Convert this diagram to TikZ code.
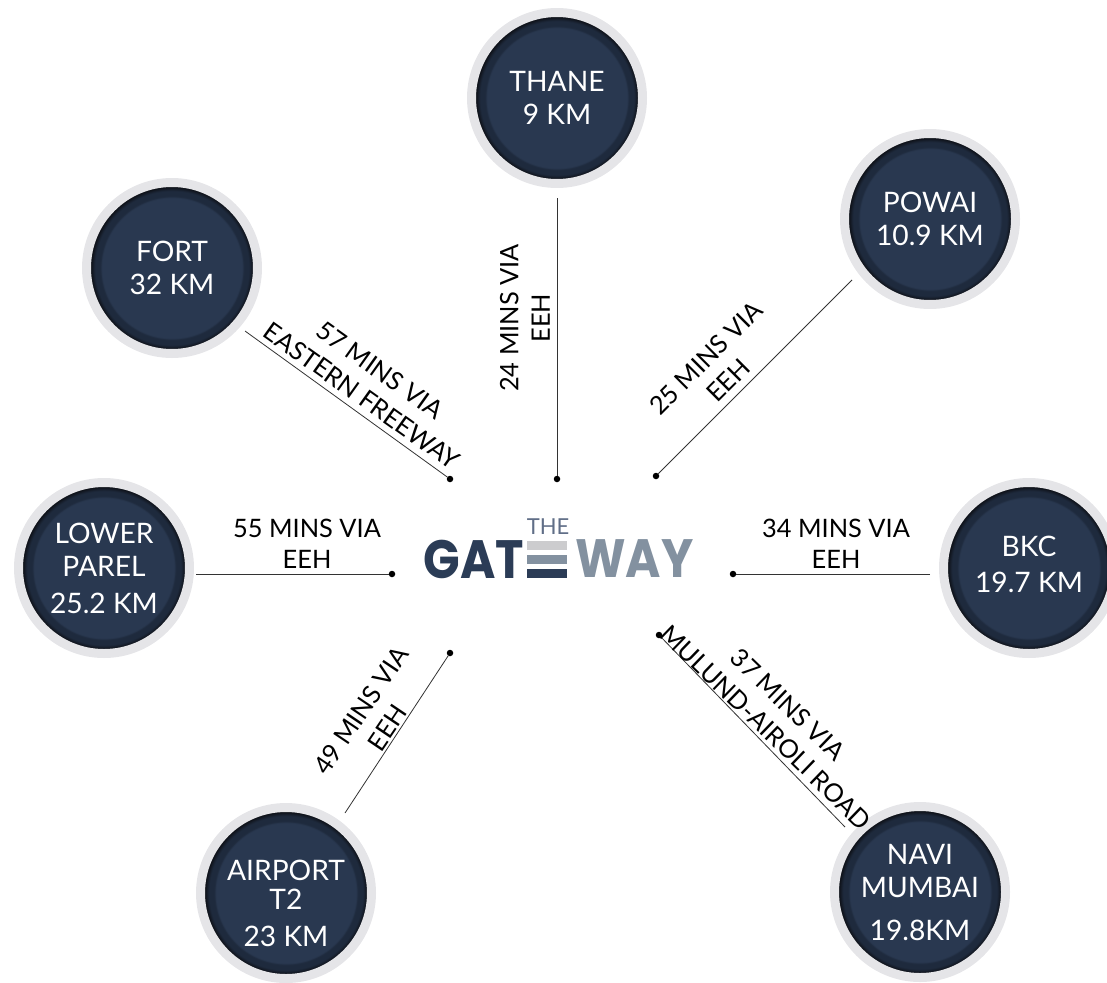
\documentclass[tikz,border=0pt]{standalone}
\usepackage{fontspec}
\setmainfont{Lato}
\newfontfamily\logofont{Poppins}
\usepackage{xcolor}
\usepackage{tikz}
\definecolor{hubnavy}{RGB}{41,56,80}
\definecolor{hubedge}{RGB}{30,42,61}
\definecolor{hubblack}{RGB}{14,17,24}
\definecolor{hubring}{RGB}{229,229,232}
\definecolor{logonavy}{RGB}{43,60,86}
\definecolor{logosteel}{RGB}{131,145,160}
\definecolor{logolight}{RGB}{204,204,206}
\definecolor{logothin}{RGB}{96,110,135}
\pgfdeclareradialshading{hubshade}{\pgfpoint{0bp}{0bp}}{%
  color(0bp)=(hubnavy); color(20.5bp)=(hubnavy); color(21bp)=(hubedge);
  color(22.5bp)=(hubedge); color(23.7bp)=(hubblack); color(50bp)=(hubblack)}
\tikzset{
  hub/.style={circle,shading=hubshade,draw=hubring,line width=9pt,minimum size=171pt,
    inner sep=0pt,outer sep=0pt,align=center,text=white,font=\fontsize{28.2}{33}\selectfont},
  link/.style={draw=black!80,line width=0.8pt},
  linkdot/.style={circle,fill=black,minimum size=6.5pt,inner sep=0pt,outer sep=0pt},
  linklabel/.style={align=center,inner sep=0pt,font=\fontsize{25.4}{31.5}\selectfont},
  logobar/.style={inner sep=0pt,outer sep=0pt,minimum width=40pt,minimum height=9.5pt},
  logoword/.style={inner sep=0pt,xscale=0.89,transform shape,font=\logofont\fontsize{54}{54}\selectfont\bfseries}
}
\begin{document}
\begin{tikzpicture}[x=1pt,y=-1pt]
  \useasboundingbox (0,0) rectangle (1107,982);
  \clip (0,0) rectangle (1107,982);

  \node[hub] (thane) at (557,98) {THANE\\9 KM};
  \node[hub] (powai) at (930,219) {POWAI\\10.9 KM};
  \node[hub] (fort) at (172,268) {FORT\\32 KM};
  \node[hub] (parel) at (104,568) {LOWER\\PAREL\\[4pt]25.2 KM};
  \node[hub,text depth=7pt] (bkc) at (1029,568) {BKC\\[3pt]19.7 KM};
  \node[hub,text height=107pt] (airport) at (286,893) {AIRPORT\\[-4pt]T2\\[4pt]23 KM};
  \node[hub] (navi) at (920,892) {NAVI\\MUMBAI\\[10pt]19.8KM};

  \node[linkdot] (dthane) at (557,479) {};
  \node[linkdot] (dpowai) at (656,476) {};
  \node[linkdot] (dfort) at (450,479) {};
  \node[linkdot] (dparel) at (392,574) {};
  \node[linkdot] (dbkc) at (733,574) {};
  \node[linkdot] (dairport) at (450,653) {};
  \node[linkdot] (dnavi) at (659,635) {};

  \coordinate (sthane) at (557,198);
  \coordinate (spowai) at (852,280);
  \coordinate (sfort) at (245,331);
  \coordinate (sparel) at (196,574);
  \coordinate (sbkc) at (930,574);
  \coordinate (sairport) at (345,813);
  \coordinate (snavi) at (845,827);

  \draw[link] (sthane) -- (dthane);
  \draw[link] (spowai) -- (dpowai);
  \draw[link] (sfort) -- (dfort);
  \draw[link] (sparel) -- (dparel);
  \draw[link] (sbkc) -- (dbkc);
  \draw[link] (sairport) -- (dairport);
  \draw[link] (snavi) -- (dnavi);

  \node[linklabel,rotate=90] (lthane) at (525,318) {24 MINS VIA\\EEH};
  \node[linklabel,rotate=45] (lpowai) at (717,369) {25 MINS VIA\\EEH};
  \node[linklabel,rotate=-35.5] (lfort) at (371,383) {57 MINS VIA\\EASTERN FREEWAY};
  \node[linklabel] (lparel) at (307,544) {55 MINS VIA\\EEH};
  \node[linklabel] (lbkc) at (836,544) {34 MINS VIA\\EEH};
  \node[linklabel,rotate=56] (lairport) at (374,719) {49 MINS VIA\\EEH};
  \node[linklabel,rotate=-44] (lnavi) at (777,716) {37 MINS VIA\\MULUND-AIROLI ROAD};

  % logo
  \node[inner sep=0pt,text=logothin,font=\fontsize{22}{22}\selectfont] (lthe) at (548,527) {THE};
  \node[logoword,anchor=east,text=logonavy] (lgat) at (524,559) {GAT};
  \node[logoword,anchor=west,text=logosteel] (lway) at (575,559) {WAY};
  \node[logobar,fill=logolight] (ltop) at (547,545.5) {};
  \node[logobar,fill=logosteel] (lmid) at (547,559.5) {};
  \node[logobar,fill=logonavy] (lbot) at (547,573.5) {};
\end{tikzpicture}
\end{document}
